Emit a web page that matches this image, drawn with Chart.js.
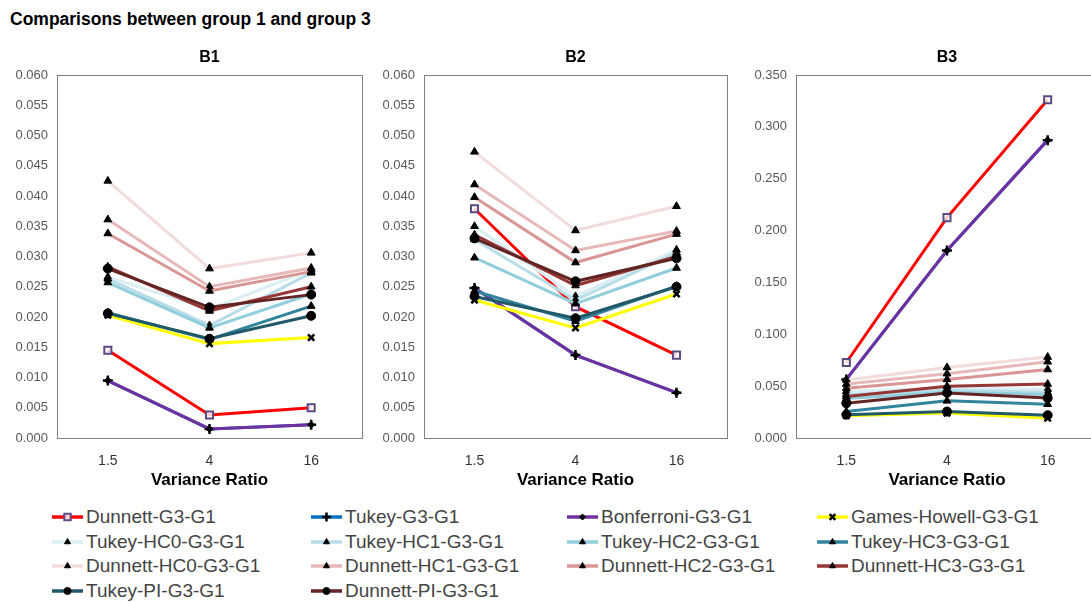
<!DOCTYPE html>
<html>
<head>
<meta charset="utf-8">
<script src="https://cdn.jsdelivr.net/npm/chart.js@4.4.1/dist/chart.umd.min.js"></script>
<style>
  body { margin: 0; background: #fff; font-family: "Liberation Sans", Arial, sans-serif; }
  #wrap { position: relative; width: 1091px; height: 602px; overflow: hidden; }
  #title { position: absolute; left: 10px; top: 9px; font-size: 17.5px; font-weight: bold; color: #000; }
  canvas.panel { position: absolute; top: 40px; }
  .item { position: absolute; height: 24px; display: flex; align-items: center; font-size: 19px; color: #444; white-space: nowrap; }
  .item canvas { margin-right: 3px; }
</style>
</head>
<body>
<div id="wrap">
  <div id="title">Comparisons between group 1 and group 3</div>
  <canvas id="b1" class="panel" width="380" height="460" style="left:0px"></canvas>
  <canvas id="b2" class="panel" width="370" height="460" style="left:370px"></canvas>
  <canvas id="b3" class="panel" width="370" height="460" style="left:740px"></canvas>
  <div id="legend"></div>
</div>
<script>
// variance ratios on the x axis
var categories = ['1.5', '4', '16'];

var seriesNames = [
  'Dunnett-G3-G1', 'Tukey-G3-G1', 'Bonferroni-G3-G1', 'Games-Howell-G3-G1',
  'Tukey-HC0-G3-G1', 'Tukey-HC1-G3-G1', 'Tukey-HC2-G3-G1', 'Tukey-HC3-G3-G1',
  'Dunnett-HC0-G3-G1', 'Dunnett-HC1-G3-G1', 'Dunnett-HC2-G3-G1', 'Dunnett-HC3-G3-G1',
  'Tukey-PI-G3-G1', 'Dunnett-PI-G3-G1'
];

// one row per series, same order as seriesNames
var b1Values = [
  [0.0145, 0.0038, 0.0050],
  [0.0095, 0.0015, 0.0022],
  [0.0095, 0.0015, 0.0022],
  [0.0203, 0.0156, 0.0166],
  [0.0266, 0.0213, 0.0278],
  [0.0263, 0.0186, 0.0273],
  [0.0257, 0.0182, 0.0238],
  [0.0207, 0.0163, 0.0218],
  [0.0425, 0.0280, 0.0306],
  [0.0361, 0.0250, 0.0281],
  [0.0338, 0.0243, 0.0275],
  [0.0283, 0.0210, 0.0250],
  [0.0206, 0.0164, 0.0202],
  [0.0280, 0.0216, 0.0237]
];

var b2Values = [
  [0.0379, 0.0217, 0.0137],
  [0.0248, 0.0137, 0.0075],
  [0.0248, 0.0137, 0.0075],
  [0.0228, 0.0182, 0.0238],
  [0.0350, 0.0234, 0.0311],
  [0.0328, 0.0228, 0.0306],
  [0.0298, 0.0222, 0.0281],
  [0.0243, 0.0193, 0.0251],
  [0.0473, 0.0343, 0.0383],
  [0.0419, 0.0310, 0.0342],
  [0.0398, 0.0290, 0.0337],
  [0.0336, 0.0252, 0.0300],
  [0.0234, 0.0198, 0.0250],
  [0.0330, 0.0259, 0.0297]
];

var b3Values = [
  [0.0728, 0.2125, 0.3262],
  [0.0565, 0.1808, 0.2872],
  [0.0565, 0.1808, 0.2872],
  [0.0215, 0.0240, 0.0190],
  [0.0450, 0.0480, 0.0470],
  [0.0420, 0.0460, 0.0440],
  [0.0380, 0.0440, 0.0420],
  [0.0255, 0.0358, 0.0325],
  [0.0560, 0.0680, 0.0780],
  [0.0520, 0.0620, 0.0735],
  [0.0480, 0.0565, 0.0660],
  [0.0400, 0.0500, 0.0520],
  [0.0225, 0.0255, 0.0220],
  [0.0335, 0.0435, 0.0385]
];

var panelTitles = ['B1', 'B2', 'B3'];
var yMax = [0.060, 0.060, 0.350];
var yStep = [0.005, 0.005, 0.050];

// styles
var lineColors = ['#ff0000', '#0070c0', '#7030a0', '#ffff00',
  '#daeef3', '#b7dee8', '#92cddc', '#31849b',
  '#f2dcdb', '#e6b9b8', '#d99694', '#953735',
  '#215968', '#632523'];
var markers = ['rect', 'cross', 'rectRot', 'crossRot',
  'triangle', 'triangle', 'triangle', 'triangle',
  'triangle', 'triangle', 'triangle', 'triangle',
  'circle', 'circle'];

function markerStyle(i) {
  var m = markers[i];
  if (m === 'rect') return { r: 5, bw: 2, fill: 'rgba(255,255,255,0.8)', stroke: '#5b4a82' };
  if (m === 'cross') return { r: 5, bw: 2.5, fill: '#000', stroke: '#000' };
  if (m === 'crossRot') return { r: 4.5, bw: 2.5, fill: '#000', stroke: '#000' };
  if (m === 'rectRot') return { r: 3.5, bw: 1, fill: '#000', stroke: '#000' };
  return { r: 4.5, bw: 1, fill: '#000', stroke: '#000' };
}

var boxPlugin = {
  id: 'box',
  beforeDatasetsDraw: function (chart) {
    var a = chart.chartArea, ctx = chart.ctx;
    ctx.save();
    ctx.strokeStyle = '#808080';
    ctx.lineWidth = 1;
    ctx.strokeRect(Math.round(a.left) + 0.5, Math.round(a.top) + 0.5,
      Math.round(a.right - a.left), Math.round(a.bottom - a.top));
    ctx.restore();
  }
};

var layouts = [
  { id: 'b1', yWidth: 57, padRight: 18 },
  { id: 'b2', yWidth: 54, padRight: 13 },
  { id: 'b3', yWidth: 56, padRight: 12 }
];
var allValues = [b1Values, b2Values, b3Values];

layouts.forEach(function (lay, p) {
  var values = allValues[p];
  var datasets = seriesNames.map(function (name, i) {
    var ms = markerStyle(i);
    return {
      label: name,
      data: values[i],
      borderColor: lineColors[i],
      backgroundColor: lineColors[i],
      borderWidth: 3,
      pointStyle: markers[i],
      pointRadius: ms.r,
      pointBorderWidth: ms.bw,
      pointBackgroundColor: ms.fill,
      pointBorderColor: ms.stroke,
      tension: 0,
      order: (i === 1 ? 100 : -i)
    };
  });

  var ctx = document.getElementById(lay.id).getContext('2d');
  new Chart(ctx, {
    type: 'line',
    data: { labels: categories, datasets: datasets },
    options: {
      responsive: false,
      animation: false,
      layout: { padding: { left: 0, right: lay.padRight, top: 0, bottom: 0 } },
      plugins: {
        legend: { display: false },
        tooltip: { enabled: false },
        title: {
          display: true,
          text: panelTitles[p],
          fullSize: false,
          color: '#000',
          font: { family: 'Liberation Sans', size: 16, weight: 'bold', lineHeight: 1.125 },
          padding: { top: 9, bottom: 8 }
        }
      },
      scales: {
        x: {
          type: 'category',
          offset: true,
          grid: { display: false, drawTicks: false },
          border: { display: false },
          ticks: { color: '#333', font: { family: 'Liberation Sans', size: 14 }, padding: 15 },
          title: {
            display: true,
            text: 'Variance Ratio',
            color: '#000',
            font: { family: 'Liberation Sans', size: 17, weight: 'bold', lineHeight: 1.1 },
            padding: { top: 0, bottom: 10 }
          },
          afterFit: function (scale) { scale.height = 62; }
        },
        y: {
          min: 0,
          max: yMax[p],
          grid: { display: false, drawTicks: false },
          border: { display: false },
          ticks: {
            stepSize: yStep[p],
            color: '#595959',
            padding: 9,
            font: { family: 'Liberation Sans', size: 13 },
            callback: function (v) { return Number(v).toFixed(3); }
          },
          afterFit: function (scale) { scale.width = lay.yWidth; }
        }
      }
    },
    plugins: [boxPlugin]
  });
});

// legend, 4 columns
var colLeft = [52, 311, 567, 817];
var rowCenter = [517, 542, 566, 591];
var legend = document.getElementById('legend');
seriesNames.forEach(function (name, i) {
  var col = i % 4, row = Math.floor(i / 4);
  var div = document.createElement('div');
  div.className = 'item';
  div.style.left = colLeft[col] + 'px';
  div.style.top = (rowCenter[row] - 12) + 'px';
  var c = document.createElement('canvas');
  c.width = 31; c.height = 20;
  var g = c.getContext('2d');
  g.strokeStyle = lineColors[i];
  g.lineWidth = 3.5;
  g.beginPath(); g.moveTo(0, 10); g.lineTo(31, 10); g.stroke();
  var ms = markerStyle(i);
  g.fillStyle = ms.fill;
  g.strokeStyle = ms.stroke;
  g.lineWidth = ms.bw;
  var r = markers[i] === 'triangle' || markers[i] === 'circle' ? 3.5 : ms.r - 0.5;
  Chart.helpers.drawPoint(g, { pointStyle: markers[i], radius: r, borderWidth: ms.bw, rotation: 0 }, 15.5, 10);
  div.appendChild(c);
  var s = document.createElement('span');
  s.textContent = name;
  div.appendChild(s);
  legend.appendChild(div);
});
</script>
</body>
</html>
